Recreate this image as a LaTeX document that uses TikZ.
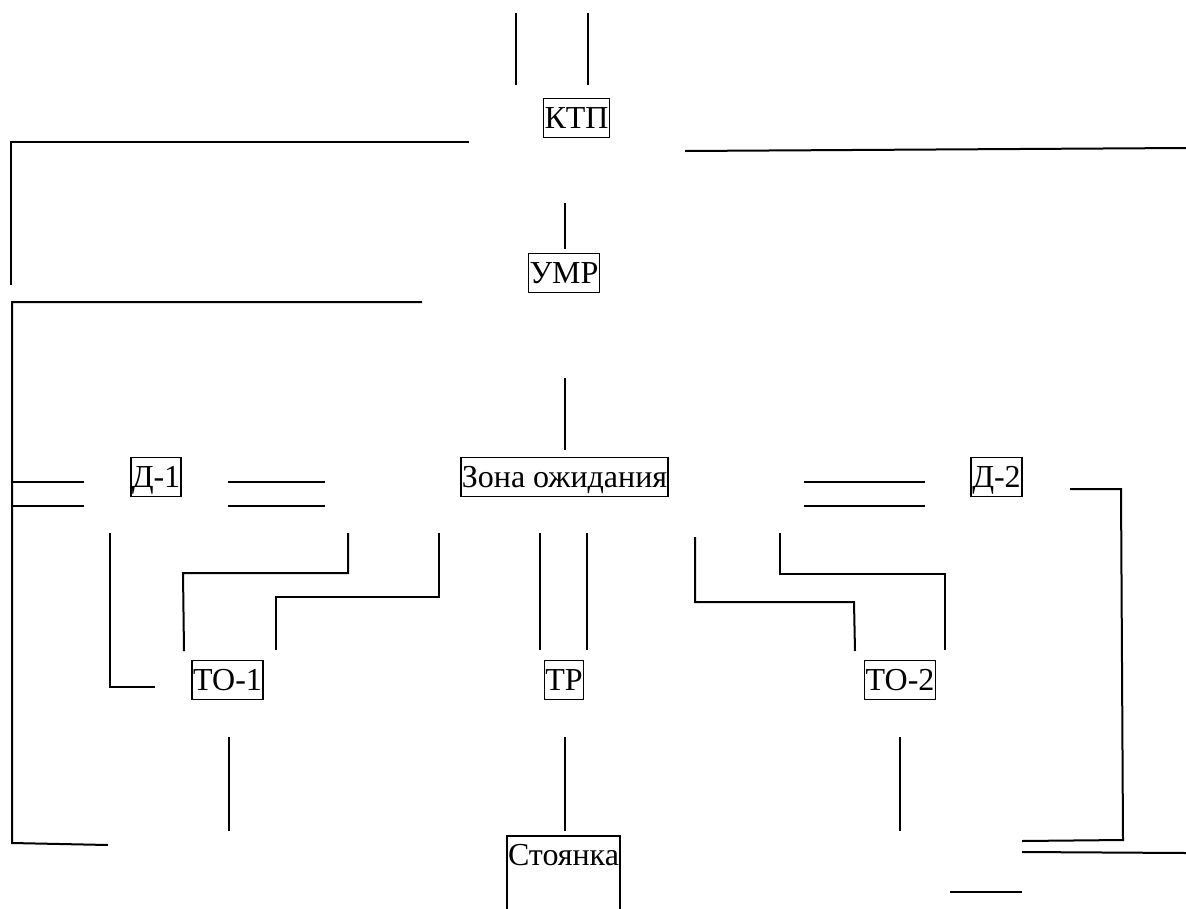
\documentclass[tikz,border=0pt]{standalone}
\usepackage{fontspec}
\setmainfont{Liberation Serif}
\newfontfamily\tnr{Liberation Serif}
\begin{document}
\begin{tikzpicture}[x=1pt,y=-1pt,
  ln/.style={line width=2pt},
  box/.style={draw, line width=1.6pt, inner xsep=1pt, inner ysep=0.5pt,
    text height=29pt, text depth=9pt, font=\tnr\fontsize{32}{38}\selectfont}]
\useasboundingbox (0,0) rectangle (1186,908);
\clip (0,0) rectangle (1186,908);
% nodes
\node[box] (ktp) at (576.5,118) {КТП};
\node[box] (umr) at (564,273) {УМР};
\node[box] (zona) at (564.5,477) {Зона ожидания};
\node[box] (d1) at (156,477) {Д-1};
\node[box] (d2) at (996.5,477) {Д-2};
\node[box] (to1) at (227.5,680) {ТО-1};
\node[box] (tr) at (564,680) {ТР};
\node[box] (to2) at (900,680) {ТО-2};
\node[box, anchor=north, text depth=90pt] (st) at (563.5,835) {Стоянка};
% lines
\draw[ln] (516,13) -- (516,85);
\draw[ln] (588,13) -- (588,85);
\draw[ln] (469,142) -- (11,142) -- (11,285);
\draw[ln] (685,151) -- (1186,148);
\draw[ln] (565,203) -- (565,249);
\draw[ln] (422,302) -- (12,302) -- (12,843) -- (108,845);
\draw[ln] (565,378) -- (565,450);
\draw[ln] (12,482) -- (84,482);
\draw[ln] (12,506) -- (84,506);
\draw[ln] (228,482) -- (325,482);
\draw[ln] (228,506) -- (325,506);
\draw[ln] (804,482) -- (925,482);
\draw[ln] (804,506) -- (925,506);
\draw[ln] (110,533) -- (110,687) -- (155,687);
\draw[ln] (348,533) -- (348,573) -- (183,573) -- (184,651);
\draw[ln] (439,533) -- (439,597) -- (276,597) -- (276,650);
\draw[ln] (540,533) -- (540,650);
\draw[ln] (587,533) -- (587,650);
\draw[ln] (695,537) -- (695,602) -- (854,602) -- (855,651);
\draw[ln] (780,533) -- (780,574) -- (945,574) -- (945,650);
\draw[ln] (1070,489) -- (1121,489) -- (1123,840) -- (1022,841);
\draw[ln] (1022,852) -- (1186,853);
\draw[ln] (950,892) -- (1022,892);
\draw[ln] (229,737) -- (229,831);
\draw[ln] (565,737) -- (565,831);
\draw[ln] (900,737) -- (900,831);
\end{tikzpicture}
\end{document}
